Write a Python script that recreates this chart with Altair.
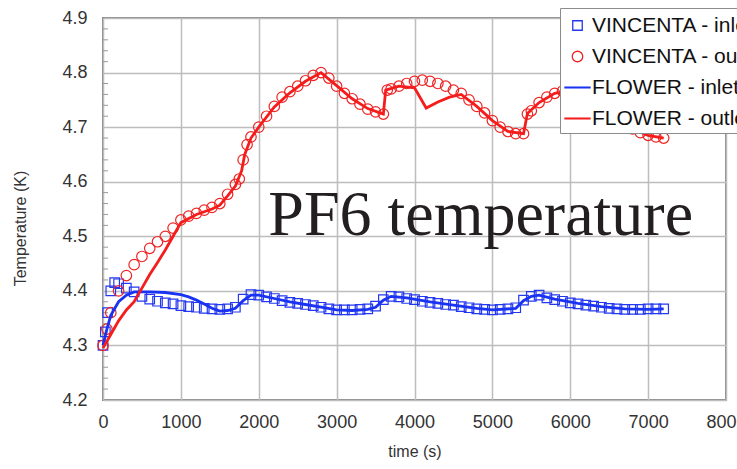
import altair as alt
import pandas as pd

# ---------------- data ----------------
series_names = ["VINCENTA - inlet", "VINCENTA - outlet", "FLOWER - inlet", "FLOWER - outlet"]
series_colors = ["#2438f0", "#ee2424", "#1a33f2", "#f51c1c"]
# custom symbol paths (unit box -1..1): small square, small circle, long dash
series_shapes = ["M-0.38,-0.38H0.38V0.38H-0.38Z",
                 "M0.42,0A0.42,0.42,0,1,1,-0.42,0A0.42,0.42,0,1,1,0.42,0Z",
                 "M-1,-0.03H1V0.03H-1Z",
                 "M-1,-0.03H1V0.03H-1Z"]

# VINCENTA - inlet (open squares)
v_in_t = [0, 30, 60, 100, 150, 200, 300, 400, 500, 600, 700, 800, 900, 1000, 1100, 1200,
          1300, 1400, 1500, 1600, 1700, 1800, 1900, 2000, 2100, 2200, 2300, 2400, 2500,
          2600, 2700, 2800, 2900, 3000, 3100, 3200, 3300, 3400, 3500, 3600, 3700, 3800,
          3900, 4000, 4100, 4200, 4300, 4400, 4500, 4600, 4700, 4800, 4900, 5000, 5100,
          5200, 5300, 5400, 5500, 5600, 5700, 5800, 5900, 6000, 6100, 6200, 6300, 6400,
          6500, 6600, 6700, 6800, 6900, 7000, 7100, 7200]
v_in_T = [4.300, 4.325, 4.360, 4.400, 4.415, 4.413, 4.405, 4.398, 4.390, 4.385, 4.381, 4.378,
          4.376, 4.373, 4.371, 4.370, 4.368, 4.367, 4.366, 4.367, 4.370, 4.385, 4.393, 4.392,
          4.389, 4.386, 4.382, 4.379, 4.377, 4.375, 4.373, 4.370, 4.367, 4.365, 4.365, 4.365,
          4.366, 4.367, 4.372, 4.384, 4.390, 4.389, 4.386, 4.384, 4.381, 4.379, 4.377, 4.375,
          4.374, 4.371, 4.369, 4.367, 4.366, 4.365, 4.366, 4.367, 4.369, 4.383, 4.390, 4.392,
          4.387, 4.384, 4.381, 4.378, 4.376, 4.374, 4.372, 4.370, 4.368, 4.367, 4.366, 4.366,
          4.366, 4.367, 4.367, 4.367]

# VINCENTA - outlet (open circles)
v_out_t = [0, 50, 100, 200, 300, 400, 500, 600, 700, 800, 900, 1000, 1100, 1200, 1300, 1400,
           1500, 1600, 1700, 1750, 1800, 1850, 1900, 2000, 2100, 2200, 2300, 2400, 2500, 2600,
           2700, 2800, 2900, 3000, 3100, 3200, 3300, 3400, 3500, 3600, 3650, 3700, 3800, 3900,
           4000, 4100, 4200, 4300, 4400, 4500, 4600, 4700, 4800, 4900, 5000, 5100, 5200, 5300,
           5400, 5450, 5500, 5600, 5700, 5800, 5900, 6000, 6100, 6200, 6300, 6400, 6500, 6600,
           6700, 6800, 6900, 7000, 7100, 7200]
v_out_T = [4.300, 4.330, 4.360, 4.400, 4.428, 4.448, 4.463, 4.478, 4.490, 4.500, 4.515, 4.530,
           4.537, 4.542, 4.548, 4.553, 4.560, 4.577, 4.595, 4.605, 4.640, 4.668, 4.682, 4.700,
           4.720, 4.738, 4.755, 4.765, 4.775, 4.785, 4.795, 4.800, 4.790, 4.775, 4.762, 4.752,
           4.742, 4.733, 4.728, 4.724, 4.768, 4.770, 4.775, 4.780, 4.784, 4.786, 4.784, 4.780,
           4.775, 4.768, 4.762, 4.750, 4.738, 4.726, 4.712, 4.700, 4.692, 4.688, 4.688, 4.724,
           4.730, 4.745, 4.755, 4.762, 4.766, 4.767, 4.768, 4.766, 4.760, 4.750, 4.738, 4.722,
           4.708, 4.697, 4.690, 4.685, 4.682, 4.680]

# FLOWER - inlet (line)
f_in_t = [0, 50, 100, 200, 300, 400, 600, 800, 1000, 1100, 1200, 1300, 1400, 1500, 1600, 1700,
          1800, 1900, 2000, 2200, 2400, 2600, 2800, 3000, 3200, 3400, 3500, 3600, 3700, 3900,
          4200, 4500, 4800, 5000, 5300, 5400, 5500, 5600, 5800, 6100, 6400, 6700, 7000, 7200]
f_in_T = [4.300, 4.330, 4.355, 4.380, 4.392, 4.398, 4.398, 4.397, 4.393, 4.389, 4.383, 4.376,
          4.368, 4.363, 4.364, 4.368, 4.382, 4.392, 4.392, 4.386, 4.380, 4.375, 4.370, 4.365,
          4.364, 4.366, 4.370, 4.383, 4.390, 4.387, 4.380, 4.374, 4.368, 4.365, 4.368, 4.382,
          4.390, 4.392, 4.385, 4.377, 4.371, 4.367, 4.366, 4.367]

# FLOWER - outlet (line)
f_out_t = [0, 100, 200, 300, 400, 500, 600, 700, 800, 900, 1000, 1200, 1400, 1500, 1600, 1700,
           1780, 1820, 1900, 2000, 2200, 2400, 2600, 2800, 3000, 3200, 3400, 3600, 3630, 3800,
           4000, 4150, 4300, 4450, 4600, 4800, 5000, 5200, 5400, 5450, 5600, 5800, 6000, 6200,
           6400, 6600, 6800, 7000, 7200]
f_out_T = [4.295, 4.320, 4.345, 4.365, 4.380, 4.405, 4.430, 4.452, 4.475, 4.500, 4.525, 4.540,
           4.550, 4.557, 4.574, 4.592, 4.620, 4.650, 4.680, 4.700, 4.737, 4.763, 4.784, 4.800,
           4.776, 4.752, 4.734, 4.724, 4.768, 4.775, 4.772, 4.735, 4.746, 4.755, 4.760, 4.738,
           4.712, 4.692, 4.688, 4.725, 4.745, 4.762, 4.767, 4.765, 4.750, 4.722, 4.697, 4.685,
           4.680]

x_ticks = [0, 1000, 2000, 3000, 4000, 5000, 6000, 7000, 8000]
y_ticks = [4.2, 4.3, 4.4, 4.5, 4.6, 4.7, 4.8, 4.9]
y_minor = [4.22, 4.24, 4.26, 4.28, 4.32, 4.34, 4.36, 4.38, 4.42, 4.44, 4.46, 4.48,
           4.52, 4.54, 4.56, 4.58, 4.62, 4.64, 4.66, 4.68, 4.72, 4.74, 4.76, 4.78,
           4.82, 4.84, 4.86, 4.88]

note_text = ["PF6 temperature"]
note_t = [4850]
note_T = [4.502]

# ---------------- tables ----------------
def frame(name, ts, Ts):
    return pd.DataFrame({"series": name, "t": ts, "T": Ts})

points_df = pd.concat([frame(series_names[0], v_in_t, v_in_T),
                       frame(series_names[1], v_out_t, v_out_T)], ignore_index=True)
lines_df = pd.concat([frame(series_names[2], f_in_t, f_in_T),
                      frame(series_names[3], f_out_t, f_out_T)], ignore_index=True)
minor_df = pd.DataFrame({"T": y_minor})
note_df = pd.DataFrame({"label": note_text, "t": note_t, "T": note_T})

FONT = "Liberation Sans"

x_enc = alt.X("t:Q",
              scale=alt.Scale(domain=[0, 8000], nice=False, zero=False),
              axis=alt.Axis(values=x_ticks, format="d", title="time (s)", orient="bottom",
                            labelFont=FONT, labelFontSize=18, labelColor="#333333",
                            labelPadding=13, labelFlush=False, labelOverlap=False,
                            ticks=False, domain=False,
                            grid=True, gridColor="#bdbdbd", gridWidth=1.5,
                            titleFont=FONT, titleFontSize=16, titleFontWeight="normal",
                            titleColor="#333333", titlePadding=12))
y_enc = alt.Y("T:Q",
              scale=alt.Scale(domain=[4.2, 4.9], nice=False, zero=False),
              axis=alt.Axis(values=y_ticks, format=".1f", title="Temperature (K)",
                            labelFont=FONT, labelFontSize=18, labelColor="#333333",
                            labelPadding=16, labelFlush=False, labelOverlap=False,
                            ticks=False, domain=False,
                            grid=True, gridColor="#bdbdbd", gridWidth=1.5,
                            titleFont=FONT, titleFontSize=16, titleFontWeight="normal",
                            titleColor="#333333", titleAngle=270, titleX=-83, titleY=210,
                            titleAlign="center", titleBaseline="middle"))

color_scale = alt.Scale(domain=series_names, range=series_colors)
shape_scale = alt.Scale(domain=series_names, range=series_shapes)

legend = alt.Legend(
    title=None, orient="none", legendX=457, legendY=-10,
    fillColor="white", strokeColor="#8c8c8c", padding=4, rowPadding=7,
    labelFont=FONT, labelFontSize=21, labelColor="#111111", labelOffset=1,
    labelLimit=400, symbolSize=625, symbolStrokeWidth=1.3,
)

minor = alt.Chart(minor_df).mark_rule(color="#9a9a9a", strokeWidth=1).encode(
    y=y_enc, x=alt.value(0), x2=alt.value(5))

pts = alt.Chart(points_df).mark_point(filled=False, size=625, strokeWidth=1.2, opacity=1).encode(
    x=x_enc, y=y_enc,
    color=alt.Color("series:N", scale=color_scale, legend=legend),
    shape=alt.Shape("series:N", scale=shape_scale, legend=legend),
)

lines = alt.Chart(lines_df).mark_line(strokeWidth=2.8).encode(
    x=x_enc, y=y_enc,
    color=alt.Color("series:N", scale=color_scale, legend=None),
    order=alt.Order("t:Q"),
)

note = alt.Chart(note_df).mark_text(font="Liberation Serif", fontSize=64, color="#231f20",
                                    align="center", baseline="alphabetic").encode(
    x=x_enc, y=y_enc, text="label:N")

chart = alt.layer(minor, pts, lines, note).properties(
    width=623, height=382,
    autosize=alt.AutoSizeParams(type="none"),
    padding={"left": 103, "top": 18, "right": 11, "bottom": 69},
    background="white",
).configure_view(stroke="#8a8a8a", strokeWidth=2)

chart.save("out.html", embed_options={"renderer": "svg", "actions": False})
